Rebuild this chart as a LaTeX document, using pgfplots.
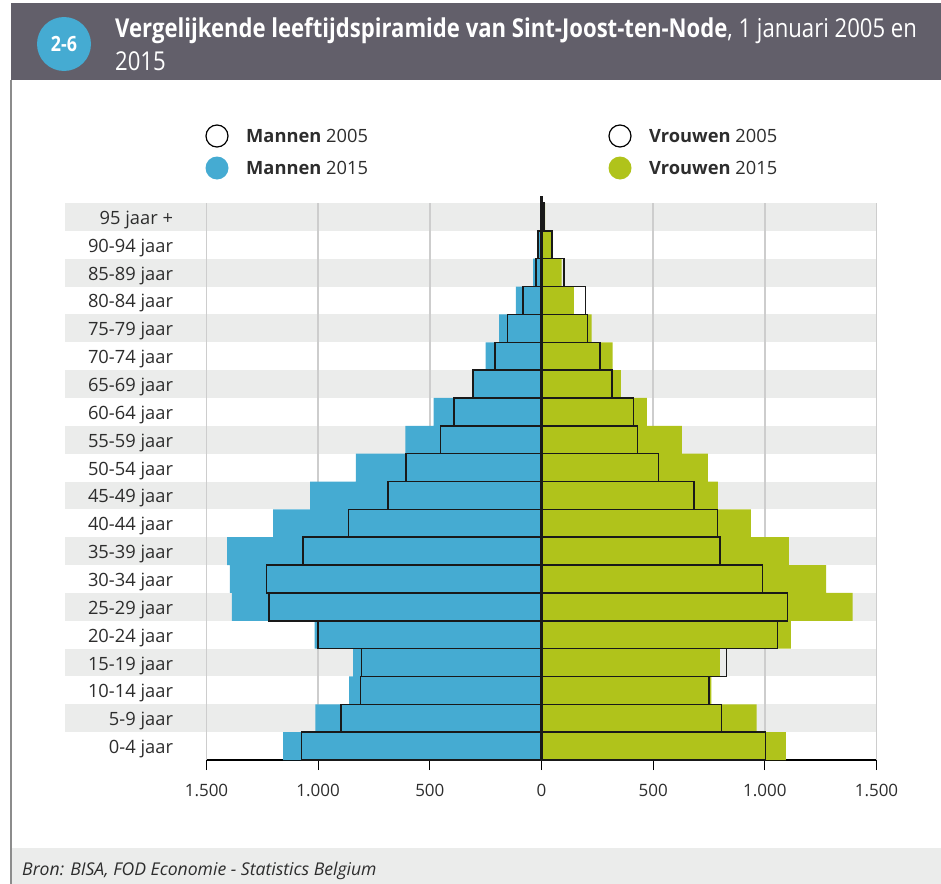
\documentclass[border=0pt]{standalone}
\usepackage{fontspec}
\setmainfont{Open Sans}
\newfontfamily\condfont[FakeStretch=0.85]{Open Sans}
\usepackage{pgfplots}
\pgfplotsset{compat=1.18}

\definecolor{hdr}{RGB}{98,95,106}
\definecolor{manblue}{RGB}{69,171,210}
\definecolor{womgreen}{RGB}{176,195,27}
\definecolor{stripe}{RGB}{235,236,235}
\definecolor{gridgray}{RGB}{205,205,205}
\definecolor{txt}{RGB}{45,45,45}
\definecolor{frame}{RGB}{140,140,140}

\begin{document}
\begin{tikzpicture}
\useasboundingbox (0,0) rectangle (941bp,-884bp);

% header
\fill[hdr] (11bp,-3bp) rectangle (941bp,-80bp);
\fill[manblue] (64bp,-44bp) circle (27bp);
\node[text=white, font=\condfont\bfseries\fontsize{21bp}{24bp}\selectfont] at (64bp,-44bp) {2-6};
\node[anchor=base west, text=white, inner sep=0pt, font=\condfont\fontsize{26bp}{30bp}\selectfont]
  at (115bp,-37bp) {\textbf{Vergelijkende leeftijdspiramide van Sint-Joost-ten-Node}, 1 januari 2005 en};
\node[anchor=base west, text=white, inner sep=0pt, font=\condfont\fontsize{26bp}{30bp}\selectfont]
  at (115bp,-70bp) {2015};

% frame and source band
\draw[frame, line width=1.5bp] (11bp,-80bp) -- (11bp,-884bp);
\fill[stripe] (12bp,-848bp) rectangle (941bp,-884bp);
\node[anchor=west, text=txt, inner sep=0pt, font=\itshape\fontsize{17.6bp}{20bp}\selectfont]
  at (22bp,-871bp) {Bron: BISA, FOD Economie - Statistics Belgium};

% legend
\begin{scope}[font=\fontsize{18.3bp}{21bp}\selectfont, text=txt]
\draw[black, line width=1.2bp, fill=white] (217bp,-136bp) circle (11bp);
\fill[manblue] (217bp,-168bp) circle (11.5bp);
\node[anchor=west, inner sep=0pt] at (246bp,-136bp) {\textbf{Mannen} 2005};
\node[anchor=west, inner sep=0pt] at (246bp,-168bp) {\textbf{Mannen} 2015};
\draw[black, line width=1.2bp, fill=white] (620bp,-136bp) circle (11bp);
\fill[womgreen] (620bp,-168bp) circle (11.5bp);
\node[anchor=west, inner sep=0pt] at (649bp,-136bp) {\textbf{Vrouwen} 2005};
\node[anchor=west, inner sep=0pt] at (649bp,-168bp) {\textbf{Vrouwen} 2015};
\end{scope}

% alternating row stripes (rows 27.85bp high, under the labels too)
\foreach \i in {1,3,...,19} {
  \fill[stripe] (65bp,{-760bp+27.85bp*\i}) rectangle (876.5bp,{-760bp+27.85bp*(\i+1)});
}

\begin{axis}[
  anchor=south west, at={(206.5bp,-760bp)},
  scale only axis, width=670bp, height=557bp,
  xmin=-1500, xmax=1500, ymin=-0.5, ymax=19.5,
  clip=false,
  axis x line*=bottom,
  y axis line style={draw=none},
  x axis line style={black, line width=1.5bp},
  tick align=outside,
  xtick={-1500,-1000,-500,0,500,1000,1500},
  xticklabels={1.500,1.000,500,0,500,1.000,1.500},
  xtick style={black, line width=1.2bp},
  major tick length=10bp,
  ytick={0,...,19},
  yticklabels={0-4 jaar,5-9 jaar,10-14 jaar,15-19 jaar,20-24 jaar,25-29 jaar,30-34 jaar,35-39 jaar,40-44 jaar,45-49 jaar,50-54 jaar,55-59 jaar,60-64 jaar,65-69 jaar,70-74 jaar,75-79 jaar,80-84 jaar,85-89 jaar,90-94 jaar,95 jaar +},
  ytick style={draw=none},
  yticklabel style={font=\fontsize{18.3bp}{21bp}\selectfont, text=txt, xshift=-20bp, yshift=-3bp},
  xticklabel style={font=\fontsize{17bp}{20bp}\selectfont, text=txt, yshift=-11bp},
]
% vertical grid lines
\pgfplotsinvokeforeach{-1500,-1000,-500,500,1000,1500}{
  \draw[gridgray, line width=1.5bp] (axis cs:#1,-0.5) -- (axis cs:#1,19.5);
}

% Mannen 2015
\addplot[xbar, bar width=1, bar shift=0, fill=manblue, draw=none] coordinates {
  (-1157,0) (-1013,1) (-861,2) (-843,3) (-1016,4) (-1386,5) (-1395,6) (-1408,7)
  (-1202,8) (-1036,9) (-831,10) (-609,11) (-483,12) (-310,13) (-250,14) (-190,15)
  (-115,16) (-37,17) (-12,18) (-3,19)
};
% Vrouwen 2015
\addplot[xbar, bar width=1, bar shift=0, fill=womgreen, draw=none] coordinates {
  (1094,0) (963,1) (761,2) (799,3) (1117,4) (1393,5) (1274,6) (1108,7)
  (938,8) (790,9) (745,10) (629,11) (472,12) (355,13) (319,14) (224,15)
  (145,16) (90,17) (46,18) (16,19)
};
% Mannen 2005
\addplot[xbar, bar width=1, bar shift=0, fill=none, draw=black!90, line width=1.5bp] coordinates {
  (-1075,0) (-898,1) (-811,2) (-805,3) (-1000,4) (-1220,5) (-1232,6) (-1067,7)
  (-865,8) (-687,9) (-606,10) (-452,11) (-391,12) (-307,13) (-208,14) (-153,15)
  (-82,16) (-25,17) (-15,18) (-5,19)
};
% Vrouwen 2005
\addplot[xbar, bar width=1, bar shift=0, fill=none, draw=black!90, line width=1.5bp] coordinates {
  (1003,0) (806,1) (751,2) (829,3) (1056,4) (1102,5) (990,6) (800,7)
  (787,8) (682,9) (523,10) (430,11) (413,12) (315,13) (263,14) (205,15)
  (196,16) (101,17) (46,18) (12,19)
};
\draw[black!90, line width=3bp] (axis cs:0,-0.5) -- (axis cs:0,19.75);
\end{axis}
\end{tikzpicture}
\end{document}
